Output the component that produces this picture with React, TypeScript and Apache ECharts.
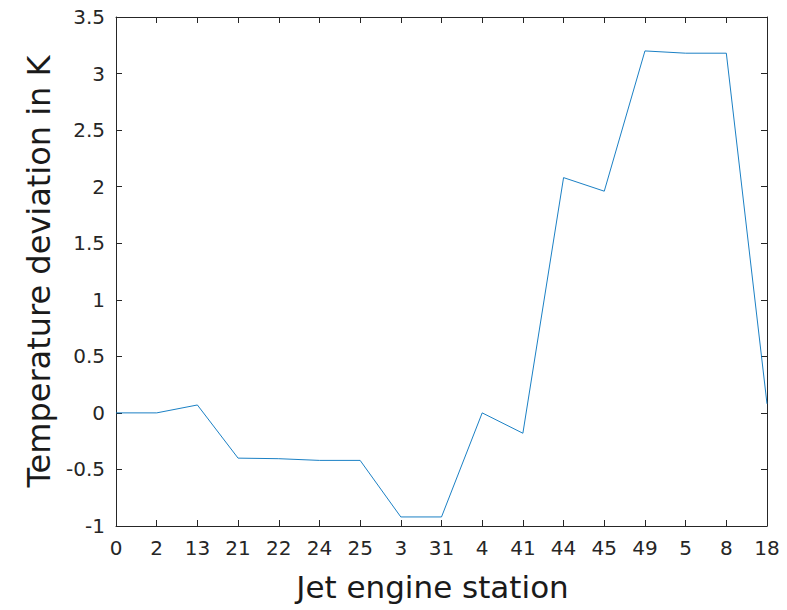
import React, { useEffect, useRef } from "react";
import * as echarts from "echarts";

// Station labels along the engine, in flow order
const stations: string[] = ["0", "2", "13", "21", "22", "24", "25", "3", "31", "4", "41", "44", "45", "49", "5", "8", "18"];

// Temperature deviation at each station (K)
const deviation: number[] = [0, 0, 0.07, -0.4, -0.405, -0.42, -0.42, -0.92, -0.92, 0, -0.18, 2.08, 1.96, 3.2, 3.18, 3.18, 0.08];

const yMin = -1;
const yMax = 3.5;
const yStep = 0.5;

const axisColor = "#262626";
const lineColor = "#0072BD";
const fontFamily = "'DejaVu Sans', Verdana, sans-serif";

export default function App() {
  const ref = useRef<HTMLDivElement>(null);

  useEffect(() => {
    if (!ref.current) return;
    const chart = echarts.init(ref.current, undefined, { renderer: "svg" });

    const tickStyle = { show: true, inside: true, length: 6, lineStyle: { color: axisColor, width: 1 } };
    const lineStyle = { show: true, onZero: false, lineStyle: { color: axisColor, width: 1 } };

    chart.setOption({
      animation: false,
      backgroundColor: "#ffffff",
      grid: { left: 116, right: 20, top: 17, bottom: 84, containLabel: false },
      xAxis: [
        {
          type: "category",
          data: stations,
          boundaryGap: false,
          position: "bottom",
          axisLine: lineStyle,
          axisTick: { ...tickStyle, alignWithLabel: true },
          axisLabel: { color: axisColor, fontSize: 20, fontFamily, margin: 12, interval: 0 },
          splitLine: { show: false },
          name: "Jet engine station",
          nameLocation: "middle",
          nameGap: 45,
          nameTextStyle: { color: "#1a1a1a", fontSize: 31, fontFamily, padding: [0, 18, 0, 0] },
        },
        {
          type: "category",
          data: stations,
          boundaryGap: false,
          position: "top",
          axisLine: lineStyle,
          axisTick: tickStyle,
          axisLabel: { show: false },
          splitLine: { show: false },
        },
      ],
      yAxis: [
        {
          type: "value",
          min: yMin,
          max: yMax,
          interval: yStep,
          position: "left",
          axisLine: lineStyle,
          axisTick: tickStyle,
          axisLabel: { color: axisColor, fontSize: 20, fontFamily, margin: 11 },
          splitLine: { show: false },
          name: "Temperature deviation in K",
          nameLocation: "middle",
          nameGap: 56,
          nameTextStyle: { color: "#1a1a1a", fontSize: 32, fontFamily },
        },
        {
          type: "value",
          min: yMin,
          max: yMax,
          interval: yStep,
          position: "right",
          axisLine: lineStyle,
          axisTick: tickStyle,
          axisLabel: { show: false },
          splitLine: { show: false },
        },
      ],
      series: [
        {
          type: "line",
          data: deviation,
          xAxisIndex: 0,
          yAxisIndex: 0,
          showSymbol: false,
          symbol: "none",
          lineStyle: { color: lineColor, width: 0.9 },
        },
      ],
    });

    return () => chart.dispose();
  }, []);

  return (
    <div
      ref={ref}
      style={{ position: "fixed", left: 0, top: 0, width: 787, height: 610, background: "#fff" }}
    />
  );
}
